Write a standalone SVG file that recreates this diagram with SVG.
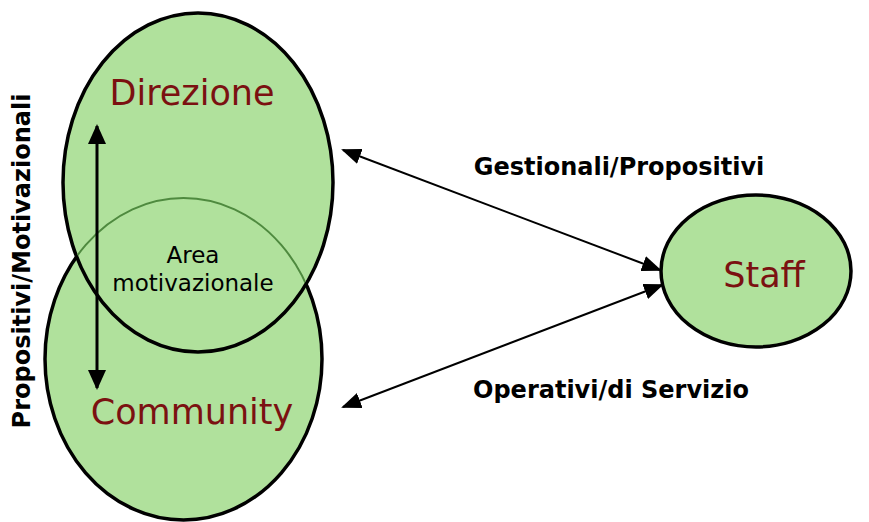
<svg xmlns="http://www.w3.org/2000/svg" width="869" height="522" viewBox="0 0 869 522">
  <style>
    .node { fill: #b0e19c; stroke: #000; stroke-width: 3.5; }
    .name { font-family: "DejaVu Sans", Verdana, sans-serif; font-size: 35px; fill: #7b1111; text-anchor: middle; }
    .lbl { font-family: "DejaVu Sans", Verdana, sans-serif; font-size: 24px; font-weight: bold; fill: #000; text-anchor: middle; }
    .area { font-family: "DejaVu Sans", Verdana, sans-serif; font-size: 23px; fill: #000; text-anchor: middle; }
    .conn { stroke: #000; stroke-width: 2; fill: none; marker-start: url(#ah); marker-end: url(#ah); }
    .vconn { stroke: #000; stroke-width: 3; fill: none; marker-start: url(#ah2); marker-end: url(#ah2); }
  </style>
  <defs>
    <marker id="ah" markerUnits="userSpaceOnUse" markerWidth="20" markerHeight="16" refX="18" refY="8" orient="auto-start-reverse">
      <path d="M0,0 L20,8 L0,16 Z" fill="#000"/>
    </marker>
    <marker id="ah2" markerUnits="userSpaceOnUse" markerWidth="20" markerHeight="18" refX="18" refY="9" orient="auto-start-reverse">
      <path d="M0,0 L20,9 L0,18 Z" fill="#000"/>
    </marker>
    <clipPath id="topclip">
      <ellipse cx="198" cy="182.5" rx="133.5" ry="168"/>
    </clipPath>
  </defs>
  <rect width="869" height="522" fill="#fff"/>

  <g id="community">
    <ellipse class="node" cx="183.5" cy="359" rx="138.5" ry="161"/>
    <text class="name" x="192" y="424">Community</text>
  </g>

  <g id="direzione">
    <ellipse class="node" cx="198" cy="182.5" rx="135" ry="169.5"/>
    <ellipse cx="183.5" cy="359" rx="138.5" ry="161" fill="none" stroke="#4f8a3f" stroke-width="2" clip-path="url(#topclip)"/>
    <text class="name" x="192" y="105">Direzione</text>
  </g>

  <g id="area">
    <text class="area" x="193" y="263">Area</text>
    <text class="area" x="193" y="291">motivazionale</text>
  </g>

  <g id="staff">
    <ellipse class="node" cx="756" cy="271" rx="95" ry="76"/>
    <text class="name" x="764" y="287">Staff</text>
  </g>

  <g id="connectors">
    <line class="conn" x1="343" y1="150" x2="660" y2="270"/>
    <line class="conn" x1="343" y1="407" x2="662" y2="285"/>
    <line class="vconn" x1="97" y1="126" x2="97" y2="388"/>
  </g>

  <g id="labels">
    <text class="lbl" x="619" y="175">Gestionali/Propositivi</text>
    <text class="lbl" x="611" y="398">Operativi/di Servizio</text>
    <text class="lbl" transform="translate(30,261) rotate(-90)" x="0" y="0">Propositivi/Motivazionali</text>
  </g>
</svg>
